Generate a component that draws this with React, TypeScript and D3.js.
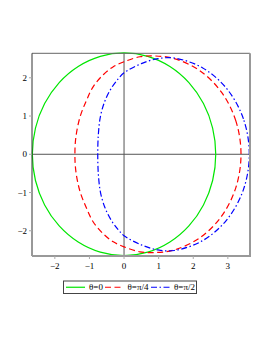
import React from "react";
import * as d3 from "d3";

// upper halves of the closed curves (right to left);
// the lower halves are mirror images about y = 0
const greenX = [2.65, 2.56, 2.295, 1.874, 1.325, 0.686, 0, -0.686, -1.325, -1.874, -2.295, -2.56, -2.65];
const greenY = [0, 0.686, 1.325, 1.874, 2.295, 2.56, 2.65, 2.56, 2.295, 1.874, 1.325, 0.686, 0];
const redX = [3.38, 3.233, 2.814, 2.187, 1.445, 0.9, 0.46, 0, -0.31, -0.6, -0.89, -1.08, -1.27, -1.39, -1.42];
const redY = [0, 0.867, 1.625, 2.187, 2.503, 2.57, 2.55, 2.42, 2.29, 2.08, 1.77, 1.42, 0.98, 0.46, 0];
const blueX = [3.62, 3.45, 2.969, 2.263, 1.453, 0.98, 0.5, 0, -0.17, -0.36, -0.55, -0.68, -0.74, -0.76];
const blueY = [0, 0.925, 1.714, 2.263, 2.516, 2.5, 2.37, 2.13, 1.97, 1.74, 1.4, 1.0, 0.55, 0];

const labels = ["θ=0", "θ=π/4", "θ=π/2"];
const colors = ["#00e600", "#ff0000", "#0000ff"];
const dashes = ["none", "6,3.5", "6,2.5,1.5,2.5"];
const xTicks = [-2, -1, 0, 1, 2, 3];
const yTicks = [-2, -1, 0, 1, 2];

const loop = (xs: number[], ys: number[]) => {
  const top = xs.map((x, i) => [x, ys[i]] as [number, number]);
  const bottom = top.slice(1, -1).reverse().map(([x, y]) => [x, -y] as [number, number]);
  return top.concat(bottom);
};

const curves = [loop(greenX, greenY), loop(redX, redY), loop(blueX, blueY)];

export default function App() {
  const left = 32, right = 250, top = 53.3, bottom = 256;
  const x = d3.scaleLinear().domain([-2.66, 3.64]).range([left, right]);
  const y = d3.scaleLinear().domain([-2.66, 2.64]).range([bottom, top]);
  const path = d3
    .line<[number, number]>()
    .x((d) => x(d[0]))
    .y((d) => y(d[1]))
    .curve(d3.curveCatmullRomClosed);
  const font = "'Liberation Serif', serif";
  const fmt = (v: number) => (v < 0 ? "\u2212" + Math.abs(v) : String(v));

  // legend layout
  const lg = { x0: 63.5, y0: 281, w: 133, h: 12.5 };
  const entries = [
    { l0: 66, l1: 85, tx: 89 },
    { l0: 105, l1: 123, tx: 127.5 },
    { l0: 151, l1: 170, tx: 174 },
  ];

  return (
    <svg
      width={270}
      height={349}
      style={{ position: "absolute", left: 0, top: 0, background: "#fff" }}
    >
      {/* axes through origin */}
      <line x1={left} x2={right} y1={y(0)} y2={y(0)} stroke="#555" strokeWidth={1} />
      <line x1={x(0)} x2={x(0)} y1={top} y2={bottom} stroke="#555" strokeWidth={1} />

      {curves.map((c, i) => (
        <path
          key={i}
          d={path(c) || ""}
          fill="none"
          stroke={colors[i]}
          strokeWidth={1.2}
          strokeDasharray={dashes[i]}
        />
      ))}

      {/* frame */}
      <line x1={left} x2={right} y1={top} y2={top} stroke="#666" strokeWidth={1} />
      <line x1={left} x2={left} y1={top} y2={bottom} stroke="#333" strokeWidth={1} />
      <line x1={right} x2={right} y1={top} y2={bottom + 1} stroke="#999" strokeWidth={2} />
      <line x1={left} x2={right} y1={bottom} y2={bottom} stroke="#999" strokeWidth={2} />

      {xTicks.map((t) => (
        <g key={"x" + t}>
          <line x1={x(t)} x2={x(t)} y1={bottom} y2={bottom + 3} stroke="#aaa" />
          <text x={x(t)} y={bottom + 13} fontSize={9} fontFamily={font} textAnchor="middle">
            {fmt(t)}
          </text>
        </g>
      ))}
      {yTicks.map((t) => (
        <g key={"y" + t}>
          <line x1={left - 3} x2={left} y1={y(t)} y2={y(t)} stroke="#aaa" />
          <text x={left - 5} y={y(t) + 3} fontSize={9} fontFamily={font} textAnchor="end">
            {fmt(t)}
          </text>
        </g>
      ))}

      {/* legend */}
      <rect x={lg.x0} y={lg.y0} width={lg.w} height={lg.h} fill="#fff" stroke="#444" strokeWidth={1} />
      {entries.map((e, i) => (
        <g key={i}>
          <line
            x1={e.l0}
            x2={e.l1}
            y1={lg.y0 + lg.h / 2}
            y2={lg.y0 + lg.h / 2}
            stroke={colors[i]}
            strokeWidth={1.2}
            strokeDasharray={dashes[i]}
          />
          <text x={e.tx} y={lg.y0 + lg.h / 2 + 3} fontSize={9} fontFamily={font}>
            {labels[i]}
          </text>
        </g>
      ))}
    </svg>
  );
}
